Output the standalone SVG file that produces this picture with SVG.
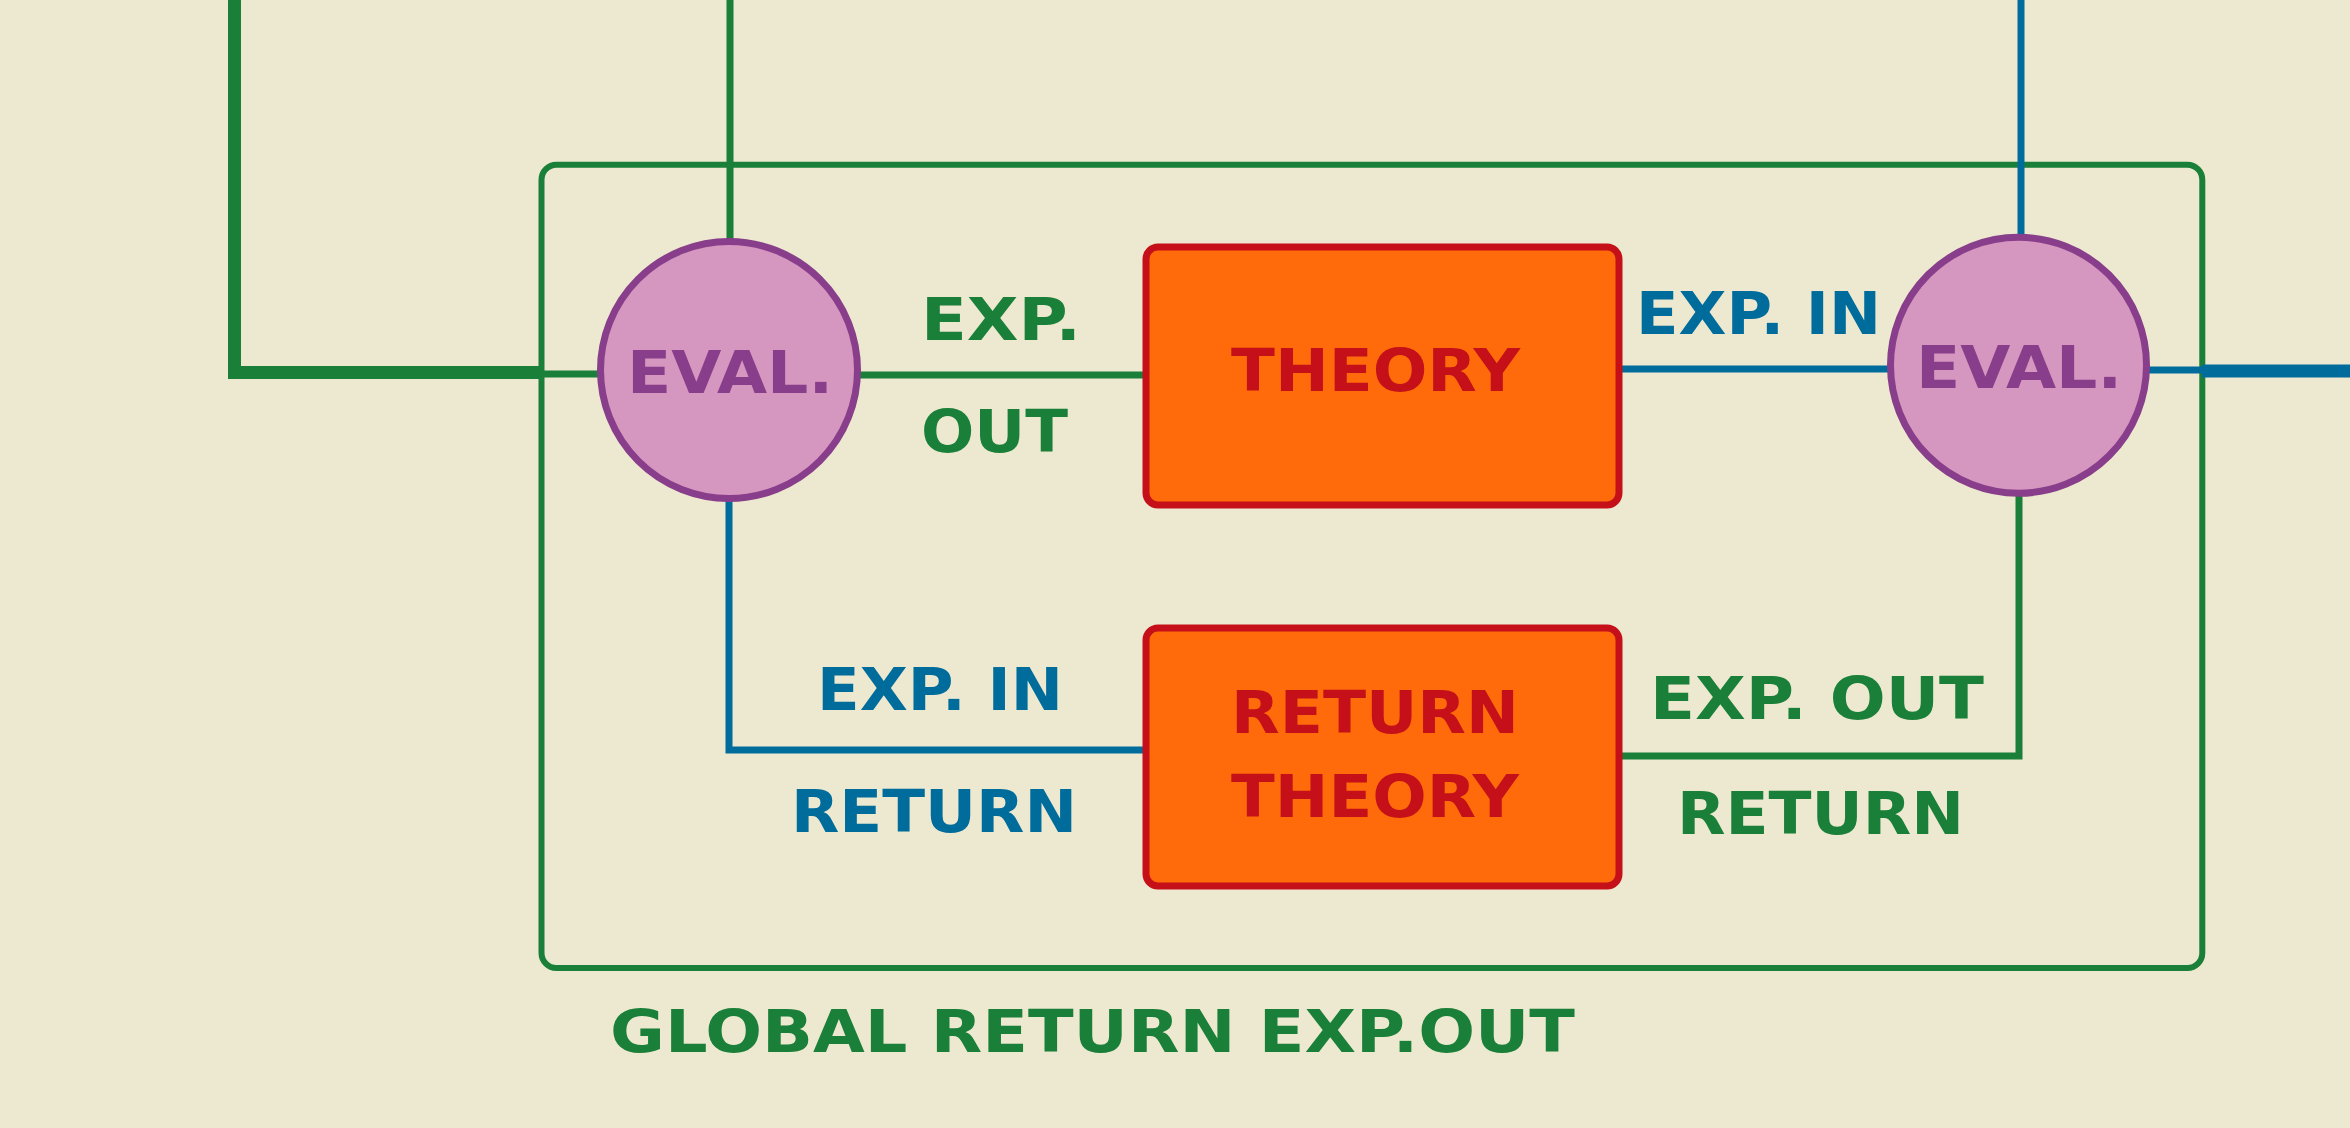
<svg xmlns="http://www.w3.org/2000/svg" width="2350" height="1128" viewBox="0 0 2350 1128">
<style>
.bg{fill:#EDE9D0}
.g{stroke:#1A7F38;fill:none;stroke-width:7}
.b{stroke:#006C9C;fill:none;stroke-width:7}
.thick{stroke-width:13;stroke-linejoin:miter}
.frame{fill:none;stroke:#1A7F38;stroke-width:6}
.eval{fill:#D596BF;stroke:#883E8A;stroke-width:7}
.box{fill:#FF6A0A;stroke:#C5101A;stroke-width:7}
text{font-family:"DejaVu Sans","Liberation Sans",sans-serif;font-weight:bold;font-size:58px}
.tg{fill:#1A7F38}
.tb{fill:#006C9C}
.tp{fill:#883E8A}
.tr{fill:#C5101A}
</style>
<rect class="bg" x="0" y="0" width="2350" height="1128"/>
<g id="frame">
<rect class="frame" x="541.5" y="164.7" width="1660.8" height="803.3" rx="15"/>
</g>
<g id="connectors">
<path class="g thick" d="M234.5,0 V372.5 H541"/>
<path class="g" d="M541,374 H600"/>
<path class="g" d="M730,0 V240"/>
<path class="g" d="M768,375 H1146"/>
<path class="g" d="M1622,756 H2019 V496"/>
<path class="b" d="M729,500 V750 H1146"/>
<path class="b" d="M1622,369 H1890"/>
<path class="b" d="M2021,0 V235"/>
<path class="b" d="M2146,370 H2202"/>
<path class="b thick" d="M2202,371 H2350"/>
</g>
<g id="eval1">
<circle class="eval" cx="729" cy="370" r="128.5"/>
<text class="tp" x="627" y="393" textLength="206" lengthAdjust="spacingAndGlyphs">EVAL.</text>
</g>
<g id="eval2">
<circle class="eval" cx="2018.5" cy="365.3" r="128"/>
<text class="tp" x="1916" y="388" textLength="206" lengthAdjust="spacingAndGlyphs">EVAL.</text>
</g>
<g id="theory">
<rect class="box" x="1146" y="247" width="473" height="258" rx="12"/>
<text class="tr" x="1231" y="391" textLength="289" lengthAdjust="spacingAndGlyphs">THEORY</text>
</g>
<g id="return-theory">
<rect class="box" x="1146" y="628" width="473" height="258" rx="12"/>
<text class="tr" x="1231" y="733" textLength="288" lengthAdjust="spacingAndGlyphs">RETURN</text>
<text class="tr" x="1231" y="817" textLength="288" lengthAdjust="spacingAndGlyphs">THEORY</text>
</g>
<g id="labels">
<text class="tg" x="921" y="340" textLength="160" lengthAdjust="spacingAndGlyphs">EXP.</text>
<text class="tg" x="921" y="452" textLength="147" lengthAdjust="spacingAndGlyphs">OUT</text>
<text class="tb" x="1636" y="334" textLength="245" lengthAdjust="spacingAndGlyphs">EXP. IN</text>
<text class="tb" x="817" y="710" textLength="246" lengthAdjust="spacingAndGlyphs">EXP. IN</text>
<text class="tb" x="791" y="832" textLength="286" lengthAdjust="spacingAndGlyphs">RETURN</text>
<text class="tg" x="1650" y="719" textLength="334" lengthAdjust="spacingAndGlyphs">EXP. OUT</text>
<text class="tg" x="1677" y="834" textLength="287" lengthAdjust="spacingAndGlyphs">RETURN</text>
<text class="tg" x="610" y="1052" textLength="965" lengthAdjust="spacingAndGlyphs">GLOBAL RETURN EXP.OUT</text>
</g>
</svg>
